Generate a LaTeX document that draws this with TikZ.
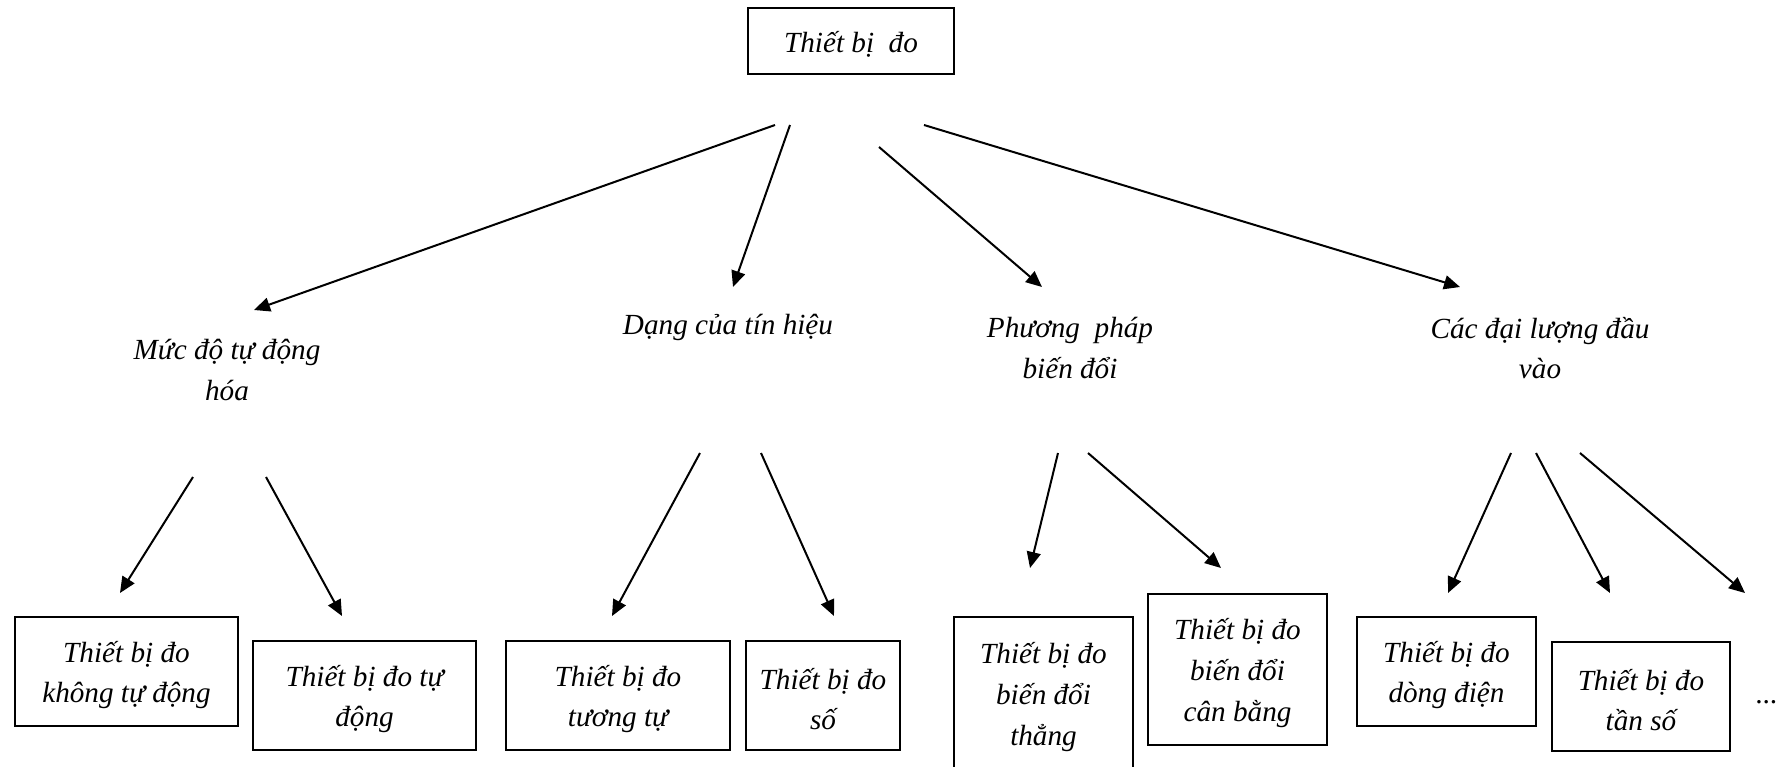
\documentclass[tikz,border=0pt]{standalone}
\usepackage{fontspec}
\setmainfont{Liberation Serif}
\usetikzlibrary{arrows.meta}
\newcommand{\diagfont}{\fontsize{14.6pt}{20.3pt}\selectfont\itshape}
\begin{document}
\begin{tikzpicture}[x=0.5pt,y=-0.5pt,
  box/.style={draw, line width=1pt, inner sep=0pt},
  lbl/.style={inner sep=0pt, align=center, font=\diagfont},
  boxtext/.style={label={[lbl,yshift=-1.8pt]center:{#1}}},
  arr/.style={-{Triangle[length=8pt,width=7pt]}, line width=1pt}]
\useasboundingbox (0,0) rectangle (1788,766);
\clip (0,0) rectangle (1788,766);
% top
\node[box, minimum width=103pt, minimum height=33pt, boxtext={Thiết bị~~đo}] (top) at (851,41) {};
% middle labels
\node[lbl] (m1) at (227,370) {Mức độ tự động\\hóa};
\node[lbl] (m2) at (728,327.5) {Dạng của tín hiệu};
\node[lbl] (m3) at (1070,348) {Phương~~pháp\\biến đổi};
\node[lbl] (m4) at (1540,348) {Các đại lượng đầu\\vào};
% bottom boxes
\node[box, minimum width=111.5pt, minimum height=54.5pt, boxtext={Thiết bị đo\\không tự động}] (b1) at (126.5,671.5) {};
\node[box, minimum width=111.5pt, minimum height=54.5pt, boxtext={Thiết bị đo tự\\động}] (b2) at (364.5,695.5) {};
\node[box, minimum width=112pt, minimum height=54.5pt, boxtext={Thiết bị đo\\tương tự}] (b3) at (618,695.5) {};
\node[box, minimum width=77pt, minimum height=54.5pt, boxtext={Thiết bị đo\\số}] (b4) at (823,695.5) {};
\node[box, minimum width=89.5pt, minimum height=76.5pt, boxtext={Thiết bị đo\\biến đổi\\thẳng}] (b5) at (1043.5,693.5) {};
\node[box, minimum width=89.5pt, minimum height=75.5pt, boxtext={Thiết bị đo\\biến đổi\\cân bằng}] (b6) at (1237.5,669.5) {};
\node[box, minimum width=89.5pt, minimum height=54.5pt, boxtext={Thiết bị đo\\dòng điện}] (b7) at (1446.5,671.5) {};
\node[box, minimum width=89pt, minimum height=54.5pt, boxtext={Thiết bị đo\\tần số}] (b8) at (1641,696.5) {};
\node[lbl] (dots) at (1767,702) {...};
% arrow end points
\coordinate (s1) at (775,125);  \coordinate (e1) at (254,310);
\coordinate (s2) at (790,125);  \coordinate (e2) at (733,287);
\coordinate (s3) at (879,147);  \coordinate (e3) at (1042,287);
\coordinate (s4) at (924,125);  \coordinate (e4) at (1460,287);
\coordinate (s5) at (193,477);  \coordinate (e5) at (120,593);
\coordinate (s6) at (266,477);  \coordinate (e6) at (342,616);
\coordinate (s7) at (700,453);  \coordinate (e7) at (612,616);
\coordinate (s8) at (761,453);  \coordinate (e8) at (834,616);
\coordinate (s9) at (1058,453); \coordinate (e9) at (1030,568);
\coordinate (s10) at (1088,453); \coordinate (e10) at (1221,568);
\coordinate (s11) at (1511,453); \coordinate (e11) at (1448,593);
\coordinate (s12) at (1536,453); \coordinate (e12) at (1610,593);
\coordinate (s13) at (1580,453); \coordinate (e13) at (1745,593);
\foreach \i in {1,...,13} {\draw[arr] (s\i) -- (e\i);}
\end{tikzpicture}
\end{document}
